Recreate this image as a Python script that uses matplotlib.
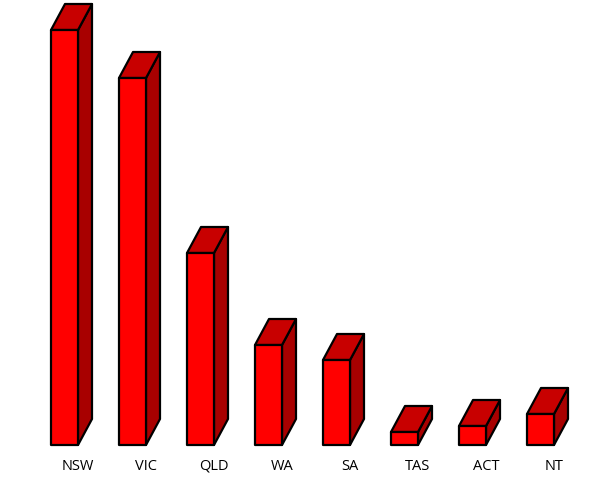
import matplotlib.pyplot as plt
from matplotlib.patches import Polygon

states = ['NSW', 'VIC', 'QLD', 'WA', 'SA', 'TAS', 'ACT', 'NT']
values = [415, 367, 192, 100, 85, 13, 19, 31]

FRONT = '#ff0000'
TOP = '#c80000'
SIDE = '#a80000'

width = 27 / 68
dx = 14 / 68
dy = 26

fig = plt.figure(figsize=(5.96, 5.00), dpi=100)
ax = fig.add_axes([0, 0, 1, 1])
ax.set_xlim(-64.5 / 68, (596 - 64.5) / 68)
ax.set_ylim(-55, 445)
ax.axis('off')

for i, (name, v) in enumerate(zip(states, values)):
    x0 = i - width / 2
    x1 = i + width / 2
    side = [(x1, 0), (x1 + dx, dy), (x1 + dx, v + dy), (x1, v)]
    top = [(x0, v), (x1, v), (x1 + dx, v + dy), (x0 + dx, v + dy)]
    front = [(x0, 0), (x1, 0), (x1, v), (x0, v)]
    for pts, col in [(side, SIDE), (top, TOP), (front, FRONT)]:
        ax.add_patch(Polygon(pts, closed=True, facecolor=col, edgecolor='black',
                             linewidth=1.6, joinstyle='round'))
    ax.text(i + 13.5 / 68, -25, name, ha='center', va='baseline',
            fontsize=10.5, family='Open Sans')

fig.savefig('out.png', dpi=100)
